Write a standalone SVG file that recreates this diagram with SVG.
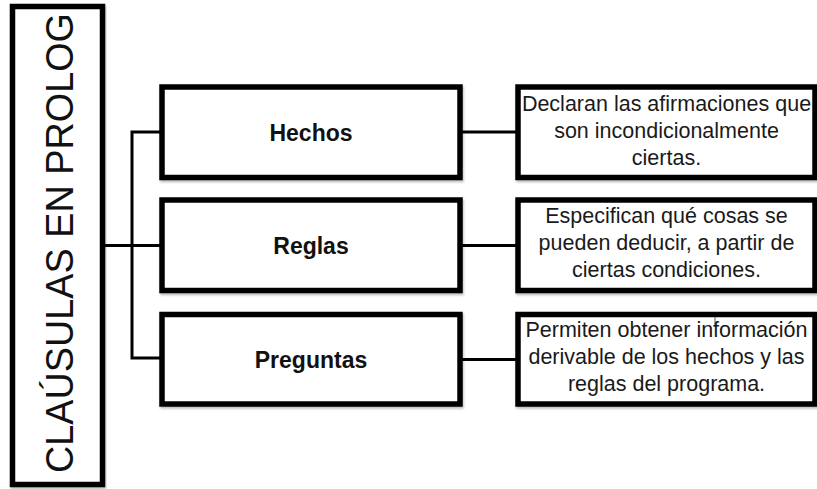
<svg xmlns="http://www.w3.org/2000/svg" width="817" height="489" viewBox="0 0 817 489">
  <defs>
    <filter id="sh" x="-5%" y="-5%" width="110%" height="115%">
      <feDropShadow dx="1" dy="2" stdDeviation="1.2" flood-color="#000" flood-opacity="0.25"/>
    </filter>
    <style>
      .box { fill: #fff; stroke: #000; stroke-width: 5.5; filter: url(#sh); }
      .conn { stroke: #000; stroke-width: 3; fill: none; }
      .title { font-family: "Liberation Sans", Arial, sans-serif; font-size: 38px; fill: #111; }
      .lbl { font-family: "Liberation Sans", Arial, sans-serif; font-size: 23px; font-weight: bold; fill: #111; text-anchor: middle; }
      .desc { font-family: "Liberation Sans", Arial, sans-serif; font-size: 21.5px; fill: #1a1a1a; text-anchor: middle; }
    </style>
  </defs>
  <rect width="817" height="489" fill="#fff"/>

  <g id="connectors">
    <path class="conn" d="M105 245.5 H162"/>
    <path class="conn" d="M162 132 H132 V358 H162"/>
    <path class="conn" d="M460 132 H518"/>
    <path class="conn" d="M460 245.5 H518"/>
    <path class="conn" d="M460 359.5 H518"/>
  </g>

  <g id="root">
    <rect class="box" x="12.5" y="6.5" width="90" height="478"/>
    <text class="title" transform="translate(73,243) rotate(-90)" text-anchor="middle" textLength="460" lengthAdjust="spacingAndGlyphs">CLAÚSULAS EN PROLOG</text>
  </g>

  <g id="hechos">
    <rect class="box" x="162" y="87" width="298" height="90.5"/>
    <text class="lbl" x="311" y="141">Hechos</text>
  </g>
  <g id="reglas">
    <rect class="box" x="162" y="200" width="298" height="90.5"/>
    <text class="lbl" x="311" y="254">Reglas</text>
  </g>
  <g id="preguntas">
    <rect class="box" x="162" y="314.5" width="298" height="89.5"/>
    <text class="lbl" x="311" y="367.5">Preguntas</text>
  </g>

  <g id="desc-hechos">
    <rect class="box" x="518" y="87" width="297" height="90.5"/>
    <text class="desc" x="666.5" y="111">Declaran las afirmaciones que</text>
    <text class="desc" x="666.5" y="138">son incondicionalmente</text>
    <text class="desc" x="666.5" y="165">ciertas.</text>
  </g>
  <g id="desc-reglas">
    <rect class="box" x="518" y="200" width="297" height="90.5"/>
    <text class="desc" x="666.5" y="223">Especifican qué cosas se</text>
    <text class="desc" x="666.5" y="250">pueden deducir, a partir de</text>
    <text class="desc" x="666.5" y="277">ciertas condiciones.</text>
  </g>
  <g id="desc-preguntas">
    <rect class="box" x="518" y="314.5" width="297" height="89.5"/>
    <line x1="715" y1="317" x2="715" y2="327" stroke="#555" stroke-width="1"/>
    <text class="desc" x="666.5" y="337">Permiten obtener información</text>
    <text class="desc" x="666.5" y="364">derivable de los hechos y las</text>
    <text class="desc" x="666.5" y="391">reglas del programa.</text>
  </g>
</svg>
